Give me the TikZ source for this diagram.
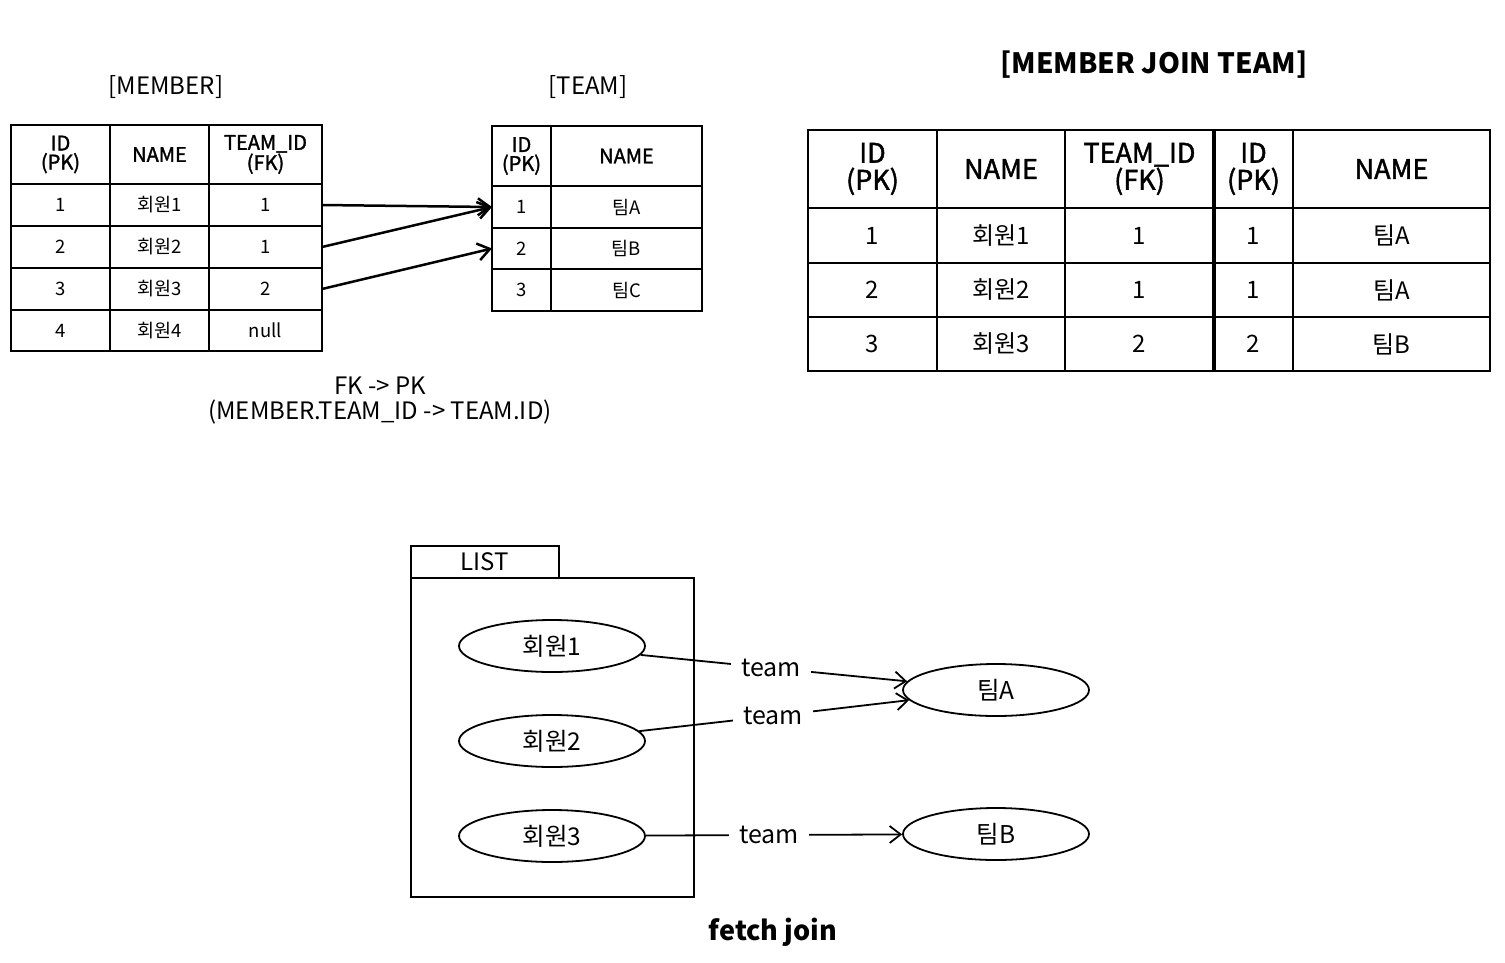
\documentclass[tikz,border=0pt]{standalone}
\usepackage{fontspec}
\setmainfont{Noto Sans CJK KR}
\newfontfamily\medfont[FakeBold=1.6]{Noto Sans CJK KR}
\usetikzlibrary{arrows.meta,shapes.geometric}
\newcommand\tcell[7]{\node[cell,#1,minimum width={(#5-#3)*1pt},minimum height={(#6-#4)*1pt}] (#2) at ({(#3+#5)/2},{(#4+#6)/2}) {#7};}
\tikzset{
  cell/.style={draw,line width=1.4pt,inner sep=0pt,outer sep=0pt,align=center},
  smh/.style={font=\medfont\fontsize{20}{19}\selectfont},
  smb/.style={font=\fontsize{18.5}{18}\selectfont},
  bgh/.style={font=\medfont\fontsize{27}{27}\selectfont},
  bgb/.style={font=\fontsize{24}{24}\selectfont},
  title/.style={font=\fontsize{24}{25}\selectfont,align=center,inner sep=0pt},
  fkarrow/.style={line width=2.5pt,-{Straight Barb[length=12pt,width=17pt,line width=2.5pt]}},
  obj/.style={draw,ellipse,line width=1.8pt,minimum width=186pt,minimum height=52pt,inner sep=0pt,font=\fontsize{24.5}{24}\selectfont},
  lab/.style={inner xsep=10pt,inner ysep=4pt,font=\fontsize{25}{25}\selectfont},
  conn/.style={line width=1.8pt},
  connarrow/.style={line width=1.8pt,-{Straight Barb[length=11pt,width=17pt,line width=1.8pt]}},
}
\begin{document}
\begin{tikzpicture}[x=1pt,y=-1pt]
\useasboundingbox (0,0) rectangle (1505,962);
% MEMBER table
\node[title] (mtitle) at (166,87) {[MEMBER]};
\tcell{smh}{mh1}{11}{125}{110}{184}{ID\\(PK)}
\tcell{smh}{mh2}{110}{125}{209}{184}{NAME}
\tcell{smh}{mh3}{209}{125}{322}{184}{TEAM\_ID\\(FK)}
\tcell{smb}{m11}{11}{184}{110}{226}{1}
\tcell{smb}{m12}{110}{184}{209}{226}{회원1}
\tcell{smb}{m13}{209}{184}{322}{226}{1}
\tcell{smb}{m21}{11}{226}{110}{268}{2}
\tcell{smb}{m22}{110}{226}{209}{268}{회원2}
\tcell{smb}{m23}{209}{226}{322}{268}{1}
\tcell{smb}{m31}{11}{268}{110}{310}{3}
\tcell{smb}{m32}{110}{268}{209}{310}{회원3}
\tcell{smb}{m33}{209}{268}{322}{310}{2}
\tcell{smb}{m41}{11}{310}{110}{351}{4}
\tcell{smb}{m42}{110}{310}{209}{351}{회원4}
\tcell{smb}{m43}{209}{310}{322}{351}{null}
% TEAM table
\node[title] (ttitle) at (588,87) {[TEAM]};
\tcell{smh}{th1}{492}{126}{551}{186}{ID\\(PK)}
\tcell{smh}{th2}{551}{126}{702}{186}{NAME}
\tcell{smb}{t11}{492}{186}{551}{228}{1}
\tcell{smb}{t12}{551}{186}{702}{228}{팀A}
\tcell{smb}{t21}{492}{228}{551}{269}{2}
\tcell{smb}{t22}{551}{228}{702}{269}{팀B}
\tcell{smb}{t31}{492}{269}{551}{311}{3}
\tcell{smb}{t32}{551}{269}{702}{311}{팀C}
% FK arrows
\draw[fkarrow] (m13.east) -- (t11.west);
\draw[fkarrow] (m23.east) -- (t11.west);
\draw[fkarrow] (m33.east) -- (t21.west);
\node[title] (fk) at (380,401) {FK -> PK\\(MEMBER.TEAM\_ID -> TEAM.ID)};
% JOIN table
\node[title,font=\bfseries\fontsize{28}{30}\selectfont] (jtitle) at (1154,65) {[MEMBER JOIN TEAM]};
\tcell{bgh}{jh1}{808}{130}{937}{208}{ID\\(PK)}
\tcell{bgh}{jh2}{937}{130}{1065}{208}{NAME}
\tcell{bgh}{jh3}{1065}{130}{1214}{208}{TEAM\_ID\\(FK)}
\tcell{bgh}{jh4}{1214}{130}{1293}{208}{ID\\(PK)}
\tcell{bgh}{jh5}{1293}{130}{1490}{208}{NAME}
\tcell{bgb}{j11}{808}{208}{937}{263}{1}
\tcell{bgb}{j12}{937}{208}{1065}{263}{회원1}
\tcell{bgb}{j13}{1065}{208}{1214}{263}{1}
\tcell{bgb}{j14}{1214}{208}{1293}{263}{1}
\tcell{bgb}{j15}{1293}{208}{1490}{263}{팀A}
\tcell{bgb}{j21}{808}{263}{937}{317}{2}
\tcell{bgb}{j22}{937}{263}{1065}{317}{회원2}
\tcell{bgb}{j23}{1065}{263}{1214}{317}{1}
\tcell{bgb}{j24}{1214}{263}{1293}{317}{1}
\tcell{bgb}{j25}{1293}{263}{1490}{317}{팀A}
\tcell{bgb}{j31}{808}{317}{937}{371}{3}
\tcell{bgb}{j32}{937}{317}{1065}{371}{회원3}
\tcell{bgb}{j33}{1065}{317}{1214}{371}{2}
\tcell{bgb}{j34}{1214}{317}{1293}{371}{2}
\tcell{bgb}{j35}{1293}{317}{1490}{371}{팀B}
\draw[line width=3.5pt] (jh4.north west) -- (j34.south west);
% LIST
\node[draw,line width=1.8pt,minimum width=148pt,minimum height=32pt,inner sep=0pt,font=\fontsize{24}{24}\selectfont] (tab) at (485,562) {LIST};
\node[draw,line width=1.8pt,minimum width=283pt,minimum height=319pt,inner sep=0pt] (list) at (552.5,737.5) {};
\node[obj] (e1) at (552,646) {회원1};
\node[obj] (e2) at (552,741) {회원2};
\node[obj] (e3) at (552,836) {회원3};
\node[obj] (ta) at (996,690) {팀A};
\node[obj] (tb) at (996,834) {팀B};
\node[lab] (l1) at (771,668) {team};
\node[lab] (l2) at (773,716) {team};
\node[lab] (l3) at (769,835) {team};
\draw[conn] (e1) -- (l1);
\draw[conn] (e2) -- (l2);
\draw[conn] (e3) -- (l3);
\draw[connarrow] (l1) -- (ta);
\draw[connarrow] (l2) -- (ta);
\draw[connarrow] (l3) -- (tb);
\node[font=\bfseries\fontsize{27}{27}\selectfont] (fj) at (773,932) {fetch join};
\end{tikzpicture}
\end{document}
